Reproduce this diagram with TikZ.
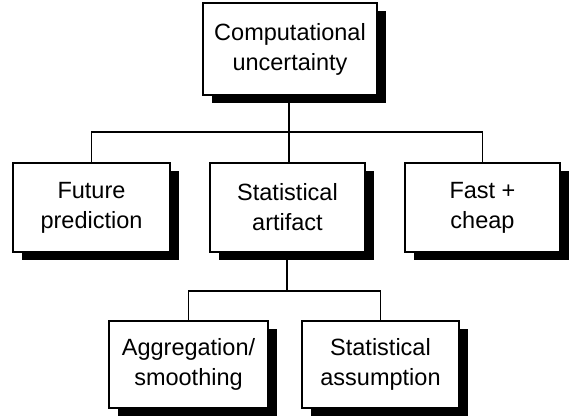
\documentclass[tikz,border=0pt]{standalone}
\usepackage{fontspec}
\setmainfont{Liberation Sans}
\usetikzlibrary{shadows,backgrounds}
\begin{document}
\begin{tikzpicture}[x=1bp,y=-1bp,
  box/.style={draw=black, line width=1.3bp, fill=white, align=center,
    inner sep=0pt, font=\fontsize{23.5bp}{30bp}\selectfont,
    drop shadow={shadow xshift=9bp, shadow yshift=-8bp, fill=black, opacity=1}},
  link/.style={draw=black, line width=1.2bp}]
\useasboundingbox (0,0) rectangle (571,417);
\node[box, minimum width=174bp, minimum height=92bp] (top) at (290,49) {Computational\\uncertainty};
\node[box, minimum width=157bp, minimum height=89bp] (fp) at (91.5,207.5) {Future\\prediction};
\node[box, minimum width=155bp, minimum height=89bp] (sa) at (287.5,207.5) {Statistical\\artifact};
\node[box, minimum width=155bp, minimum height=89bp] (fc) at (482.5,207.5) {Fast +\\cheap};
\node[box, minimum width=159bp, minimum height=87bp] (ag) at (188.5,364.5) {Aggregation/\\smoothing};
\node[box, minimum width=157bp, minimum height=87bp] (as) at (380.5,364.5) {Statistical\\assumption};
\coordinate (bus1) at (289,132);
\coordinate (bus2) at (287,291);
\begin{scope}[on background layer]
\draw[link] (top.south -| bus1) -- (bus1);
\draw[link] (fp.north) |- (bus1);
\draw[link] (fc.north) |- (bus1);
\draw[link] (sa.north -| bus1) -- (bus1);
\draw[link] (sa.south -| bus2) -- (bus2);
\draw[link] (ag.north) |- (bus2);
\draw[link] (as.north) |- (bus2);
\end{scope}
\end{tikzpicture}
\end{document}
